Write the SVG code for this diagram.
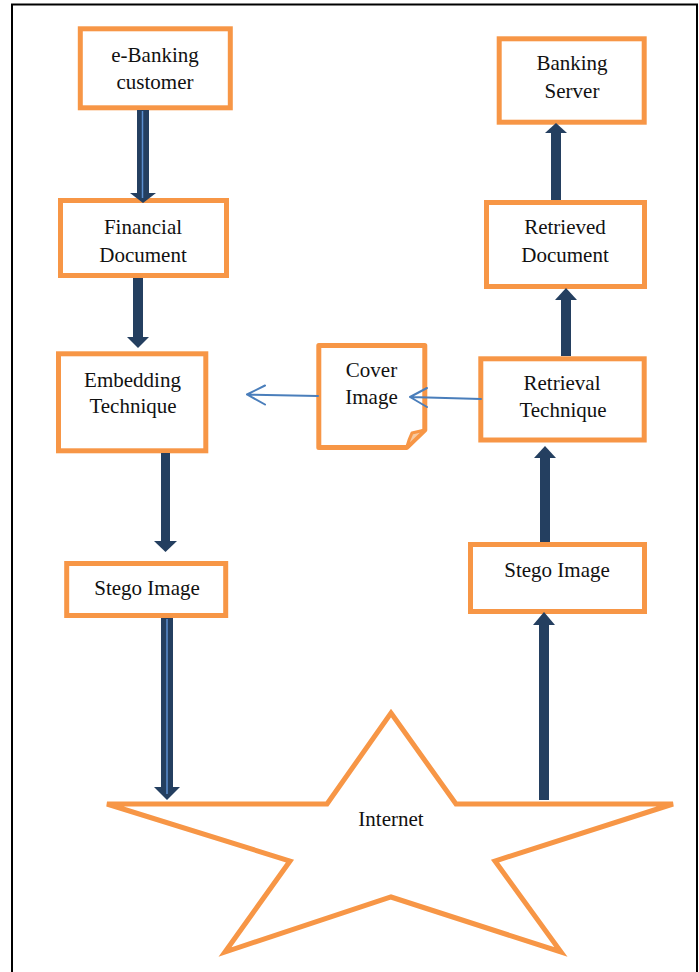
<svg xmlns="http://www.w3.org/2000/svg" width="699" height="972" viewBox="0 0 699 972">
<defs>
<style>
.box{fill:#fff;stroke:#F79646;stroke-width:5}
.lbl{font-size:21px;fill:#111;text-anchor:middle}
.thick{fill:#243F60}
.hl{stroke:#5B8FD0;stroke-width:1.5}
.thin{fill:none;stroke:#4A7EBB;stroke-width:2;stroke-linecap:round;stroke-linejoin:round}
</style>
</defs>
<rect x="0" y="0" width="699" height="972" fill="#fff"/>
<rect x="12" y="4.5" width="685" height="1000" fill="none" stroke="#000" stroke-width="2"/>

<g font-family="'Liberation Serif', 'DejaVu Serif', serif">
<g id="internet">
<polygon points="391,713 456,804 673,804 495,861 561,952 391,897 225,952 290,861 107,804 327,804" fill="#fff" stroke="#F79646" stroke-width="5"/>
<text class="lbl" x="391" y="826">Internet</text>
</g>

<g id="ebanking-customer">
<rect class="box" x="80.3" y="28.8" width="150" height="79"/>
<text class="lbl" x="155" y="62">e-Banking</text>
<text class="lbl" x="155" y="88.5">customer</text>
</g>

<g id="financial-document">
<rect class="box" x="60.5" y="200.5" width="166" height="75"/>
<text class="lbl" x="143" y="234">Financial</text>
<text class="lbl" x="143" y="262">Document</text>
</g>

<g id="embedding-technique">
<rect class="box" x="58.5" y="353.8" width="147.3" height="97"/>
<text class="lbl" x="132.5" y="387">Embedding</text>
<text class="lbl" x="133" y="413">Technique</text>
</g>

<g id="stego-left">
<rect class="box" x="66.7" y="563.5" width="159" height="52"/>
<text class="lbl" x="147" y="595">Stego Image</text>
</g>

<g id="banking-server">
<rect class="box" x="499.2" y="38.8" width="145" height="83.4"/>
<text class="lbl" x="572" y="70">Banking</text>
<text class="lbl" x="572" y="98">Server</text>
</g>

<g id="retrieved-document">
<rect class="box" x="486.5" y="202.5" width="158" height="84"/>
<text class="lbl" x="565" y="234">Retrieved</text>
<text class="lbl" x="565" y="262">Document</text>
</g>

<g id="retrieval-technique">
<rect class="box" x="480.8" y="358.8" width="163.4" height="81.2"/>
<text class="lbl" x="562" y="390">Retrieval</text>
<text class="lbl" x="563" y="417">Technique</text>
</g>

<g id="stego-right">
<rect class="box" x="470.5" y="544.5" width="174" height="67"/>
<text class="lbl" x="557" y="577">Stego Image</text>
</g>

<g id="cover-image">
<path d="M318.8,345.5 H424.8 V430 L406.7,447.5 H318.8 Z" fill="#fff" stroke="#F79646" stroke-width="5" stroke-linejoin="round"/>
<path d="M424.8,430 L412,433 Q409,439 406.7,447.5 Z" fill="#F7C9A0" stroke="#F79646" stroke-width="3" stroke-linejoin="round"/>
<text class="lbl" x="371.5" y="377">Cover</text>
<text class="lbl" x="371.5" y="404">Image</text>
</g>
</g>

<g id="connectors">
<rect class="thick" x="137" y="110" width="12" height="84"/>
<polygon class="thick" points="130,193 156,193 143,203"/>
<line class="hl" x1="142.5" y1="111" x2="142.5" y2="198"/>

<rect class="thick" x="133" y="278" width="10" height="60"/>
<polygon class="thick" points="127,337 149,337 138,348"/>

<rect class="thick" x="161" y="453" width="9" height="89"/>
<polygon class="thick" points="154,541 177,541 165.5,552"/>

<rect class="thick" x="161" y="618" width="12" height="170"/>
<polygon class="thick" points="154,787 180,787 167,800"/>
<line class="hl" x1="167" y1="619" x2="167" y2="794"/>

<rect class="thick" x="539" y="624" width="10" height="176"/>
<polygon class="thick" points="533,625 555,625 544,612"/>

<rect class="thick" x="540" y="457" width="10" height="85"/>
<polygon class="thick" points="534,458 556,458 545,446"/>

<rect class="thick" x="561" y="299" width="10" height="57"/>
<polygon class="thick" points="555,300 577,300 566,288"/>

<rect class="thick" x="551" y="132" width="10" height="68"/>
<polygon class="thick" points="545,133 567,133 556,123"/>

<path class="thin" d="M481,399 L410,397 M427,388 L410,397 L427,407"/>
<path class="thin" d="M318,396 L247,394.5 M265,385.5 L247,394.5 L265,404.5"/>
</g>
</svg>
